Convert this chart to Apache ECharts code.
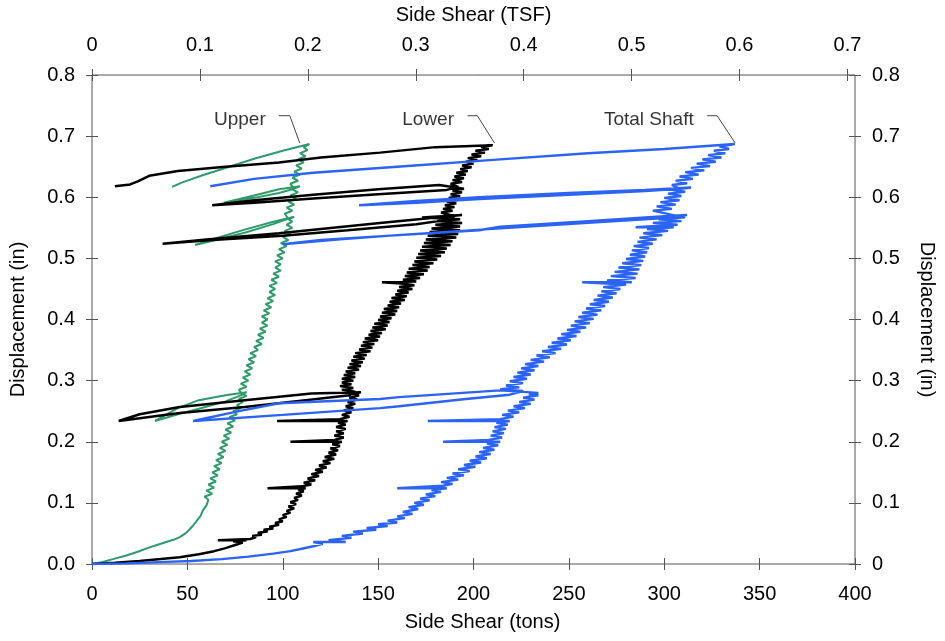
<!DOCTYPE html>
<html>
<head>
<meta charset="utf-8">
<script src="https://cdn.jsdelivr.net/npm/echarts@6/dist/echarts.min.js"></script>
<style>
  html, body { margin: 0; padding: 0; background: #fff; }
  #chart { width: 945px; height: 641px; }
</style>
</head>
<body>
<div id="chart"></div>
<script>
// Load-transfer curves: side shear (tons) vs. displacement (in), [tons, inches]
const upperShear = [
  [0,0],[5,0.003],[11,0.008],[18,0.014],[24,0.020],[29,0.026],[34,0.031],[39,0.036],[43,0.040],[46,0.044],
  [49,0.050],[51,0.056],[53,0.063],[55,0.071],[57,0.079],[58,0.087],[60,0.096],[61,0.105],[59,0.110],[63,0.115],
  [60,0.120],[64,0.125],[61,0.130],[65,0.135],[62,0.140],[66,0.145],[63,0.150],[67,0.155],[64,0.160],[68,0.165],
  [65,0.170],[69,0.175],[66,0.180],[70,0.185],[67,0.190],[71,0.195],[68,0.200],[72,0.205],[69,0.210],[73,0.215],
  [70,0.220],[74,0.225],[71,0.230],[75,0.235],[72,0.240],[76,0.245],[74,0.250],[78,0.255],[76,0.260],[79,0.265],
  [77,0.270],[81,0.275],[79,0.278],[81,0.281],
  // first unload / reload
  [70,0.276],[56,0.268],[45,0.255],[33,0.234],[45,0.245],[56,0.254],[70,0.266],[79,0.277],
  [77,0.285],[81,0.290],[78,0.295],[82,0.300],[79,0.305],[83,0.310],[80,0.315],[84,0.320],[81,0.325],[85,0.330],
  [82,0.335],[86,0.340],[83,0.345],[87,0.350],[85,0.355],[89,0.360],[86,0.365],[90,0.370],[87,0.375],[91,0.380],
  [88,0.385],[92,0.390],[89,0.395],[92,0.400],[89,0.405],[93,0.410],[90,0.415],[94,0.420],[91,0.425],[95,0.430],
  [92,0.435],[96,0.440],[93,0.445],[96,0.450],[93,0.455],[97,0.460],[94,0.465],[98,0.470],[95,0.475],[99,0.480],
  [96,0.485],[99,0.490],[96,0.495],[100,0.500],[97,0.505],[101,0.510],[98,0.515],[102,0.520],[99,0.525],[103,0.530],
  [100,0.535],[104,0.540],[101,0.545],[105,0.550],[102,0.555],[105,0.560],[103,0.564],[106,0.568],
  // second unload / reload
  [95,0.560],[80,0.547],[65,0.533],[54,0.522],[65,0.530],[80,0.542],[95,0.556],[103,0.565],
  [101,0.573],[105,0.578],[102,0.583],[106,0.588],[103,0.593],[107,0.598],[104,0.603],[108,0.608],[105,0.613],[109,0.618],
  // third unload / reload
  [98,0.613],[85,0.603],[69,0.591],[85,0.599],[98,0.607],[106,0.614],
  [104,0.622],[108,0.627],[105,0.632],[109,0.637],[106,0.642],[110,0.647],[107,0.652],[111,0.657],[108,0.662],
  [112,0.667],[109,0.672],[113,0.677],[111,0.682],[114,0.687],
  // final unload
  [100,0.676],[85,0.663],[72,0.650],[58,0.636],[47,0.624],[42,0.617]
];

const lowerShear = [
  [0,0],[12,0.002],[25,0.005],[36,0.008],[46,0.011],[56,0.016],[64,0.021],[70,0.026],[75,0.031],[79,0.035],
  [74,0.037],[81,0.039],[66,0.039],[83,0.041],[86,0.044],[84,0.046],[89,0.048],[87,0.051],[92,0.053],[90,0.056],
  [95,0.058],[93,0.061],[98,0.064],[96,0.067],[100,0.070],[98,0.073],[102,0.077],[100,0.080],[104,0.084],[102,0.087],
  [106,0.091],[103,0.094],[107,0.098],[104,0.101],[108,0.105],[106,0.108],[110,0.112],[107,0.115],[111,0.119],
  [108,0.122],[112,0.124],[92,0.124],[110,0.127],[115,0.130],[111,0.133],[117,0.137],[113,0.140],[119,0.144],
  [115,0.147],[121,0.151],[117,0.154],[123,0.158],[119,0.161],[125,0.165],[121,0.168],[127,0.172],[122,0.175],
  [128,0.179],[124,0.182],[129,0.186],[125,0.189],[130,0.193],[126,0.196],[131,0.200],[104,0.200],[127,0.203],
  [132,0.207],[127,0.210],[132,0.214],[128,0.217],[133,0.221],[128,0.224],[133,0.228],[129,0.231],[134,0.234],
  [97,0.234],[130,0.237],[135,0.241],[131,0.244],[136,0.248],[132,0.251],[137,0.255],[133,0.258],[138,0.262],
  [134,0.265],[139,0.269],[135,0.272],[140,0.276],[136,0.278],[141,0.281],
  // first unload / reload
  [115,0.279],[80,0.268],[46,0.257],[25,0.245],[14,0.234],[46,0.247],[80,0.257],[112,0.268],[135,0.276],[138,0.282],
  [131,0.285],[137,0.288],[130,0.291],[136,0.294],[131,0.297],[137,0.300],[131,0.303],[138,0.306],[132,0.309],
  [138,0.312],[133,0.315],[140,0.318],[134,0.321],[141,0.324],[135,0.327],[142,0.330],[136,0.333],[143,0.336],
  [137,0.339],[144,0.342],[138,0.345],[146,0.348],[140,0.351],[147,0.354],[141,0.357],[148,0.360],[142,0.363],
  [150,0.366],[143,0.369],[151,0.372],[145,0.375],[152,0.378],[146,0.381],[154,0.384],[147,0.387],[155,0.390],
  [148,0.393],[156,0.396],[150,0.399],[157,0.402],[151,0.405],[159,0.408],[152,0.411],[160,0.414],[153,0.417],
  [161,0.420],[155,0.423],[162,0.426],[156,0.429],[164,0.432],[157,0.435],[165,0.438],[159,0.441],[166,0.444],
  [160,0.447],[168,0.450],[161,0.453],[169,0.456],[162,0.459],[152,0.461],[170,0.462],[163,0.465],[172,0.468],
  [164,0.471],[174,0.474],[165,0.477],[176,0.480],[166,0.483],[177,0.486],[168,0.489],[179,0.492],[169,0.495],
  [181,0.498],[170,0.501],[183,0.504],[171,0.507],[185,0.510],[172,0.513],[186,0.516],[173,0.519],[188,0.522],
  [174,0.525],[189,0.528],[175,0.531],[191,0.534],[176,0.537],[192,0.540],[177,0.543],[193,0.546],[178,0.549],
  [193,0.552],[180,0.555],[194,0.558],[181,0.561],[193,0.564],[173,0.567],[194,0.571],
  // second unload / reload
  [151,0.558],[98,0.541],[60,0.531],[37,0.524],[63,0.530],[100,0.537],[134,0.546],[170,0.556],[186,0.563],[190,0.569],
  [183,0.575],[189,0.578],[184,0.581],[190,0.584],[185,0.587],[191,0.590],[186,0.593],[192,0.596],[187,0.599],
  [193,0.602],[188,0.605],[194,0.608],[189,0.611],[195,0.614],[196,0.617],
  // third unload / reload
  [182,0.620],[150,0.613],[116,0.604],[85,0.595],[63,0.587],[85,0.591],[116,0.598],[150,0.605],[186,0.612],[192,0.617],
  [188,0.622],[194,0.625],[189,0.628],[195,0.631],[190,0.634],[196,0.637],[191,0.640],[197,0.643],[193,0.646],
  [199,0.649],[194,0.652],[200,0.655],[196,0.658],[202,0.661],[197,0.664],[204,0.667],[199,0.670],[206,0.673],
  [201,0.676],[208,0.679],[204,0.682],[210,0.685],[211,0.687],
  // final unload
  [180,0.682],[151,0.673],[120,0.665],[98,0.657],[70,0.650],[45,0.643],[30,0.635],[24,0.626],[20,0.621],[12,0.618]
];

const totalShear = [
  [0,0],[18,0.001],[35,0.003],[52,0.005],[68,0.008],[82,0.012],[95,0.017],[104,0.021],[110,0.025],[116,0.029],
  [121,0.033],[116,0.036],[133,0.036],[124,0.039],[136,0.043],[131,0.046],[142,0.050],[137,0.053],[149,0.056],
  [144,0.059],[155,0.062],[150,0.065],[160,0.068],[155,0.071],[164,0.075],[160,0.078],[168,0.082],[163,0.085],
  [171,0.090],[166,0.093],[174,0.097],[169,0.100],[177,0.104],[172,0.107],[180,0.111],[175,0.114],[183,0.118],
  [178,0.121],[186,0.124],[160,0.124],[184,0.128],[189,0.131],[183,0.134],[192,0.138],[186,0.141],[195,0.145],
  [189,0.148],[198,0.152],[192,0.155],[201,0.159],[195,0.162],[204,0.166],[198,0.169],[207,0.173],[201,0.176],
  [209,0.180],[203,0.183],[211,0.187],[205,0.190],[213,0.194],[207,0.197],[214,0.200],[184,0.200],[208,0.203],
  [215,0.207],[209,0.210],[216,0.214],[210,0.217],[217,0.221],[211,0.224],[218,0.228],[212,0.231],[219,0.234],
  [176,0.234],[214,0.237],[221,0.241],[215,0.244],[224,0.248],[218,0.251],[227,0.255],[221,0.258],[230,0.262],
  [224,0.265],[232,0.269],[226,0.272],[234,0.276],[229,0.278],[234,0.280],
  // first unload / reload
  [214,0.284],[161,0.273],[151,0.270],[98,0.263],[77,0.250],[53,0.234],[100,0.244],[151,0.255],[161,0.258],
  [196,0.270],[219,0.277],[226,0.283],
  [214,0.286],[224,0.289],[217,0.292],[226,0.296],[219,0.299],[228,0.303],[221,0.306],[230,0.310],[223,0.313],
  [232,0.317],[225,0.320],[234,0.324],[227,0.327],[237,0.331],[230,0.334],[240,0.338],[233,0.341],[243,0.345],
  [236,0.348],[246,0.352],[239,0.355],[249,0.359],[241,0.362],[251,0.366],[244,0.369],[254,0.373],[246,0.376],
  [256,0.380],[249,0.383],[259,0.387],[251,0.390],[261,0.394],[253,0.397],[263,0.401],[255,0.404],[265,0.408],
  [257,0.411],[267,0.415],[259,0.418],[269,0.422],[261,0.425],[271,0.429],[263,0.432],[273,0.436],[265,0.439],
  [275,0.443],[267,0.446],[277,0.450],[268,0.453],[280,0.457],[257,0.461],[283,0.461],[270,0.464],[285,0.468],
  [272,0.471],[286,0.475],[274,0.478],[287,0.482],[276,0.485],[288,0.489],[278,0.492],[289,0.496],[280,0.499],
  [290,0.503],[282,0.506],[291,0.510],[283,0.513],[292,0.517],[284,0.520],[294,0.524],[286,0.527],[296,0.531],
  [287,0.534],[299,0.538],[289,0.541],[302,0.545],[291,0.548],[305,0.551],[285,0.551],[307,0.555],[294,0.558],
  [309,0.561],[297,0.564],[311,0.567],[300,0.569],[312,0.571],
  // second unload / reload
  [300,0.569],[260,0.561],[214,0.552],[203,0.546],[150,0.536],[120,0.530],[100,0.523],[130,0.531],[160,0.538],
  [214,0.549],[260,0.558],[296,0.565],[306,0.570],
  [300,0.574],[294,0.578],[304,0.581],[296,0.585],[306,0.588],[298,0.592],[308,0.595],[300,0.599],[309,0.602],
  [302,0.606],[311,0.609],[304,0.612],[314,0.616],
  // third unload / reload
  [290,0.612],[250,0.607],[203,0.600],[170,0.594],[140,0.587],[170,0.591],[203,0.597],[250,0.604],[290,0.610],
  [308,0.614],
  [304,0.620],[312,0.623],[306,0.627],[315,0.630],[308,0.634],[318,0.637],[311,0.641],[321,0.644],[314,0.648],
  [324,0.651],[317,0.655],[327,0.658],[320,0.662],[330,0.665],[323,0.669],[332,0.672],[326,0.676],[334,0.679],
  [329,0.683],[337,0.687],
  // final unload
  [300,0.679],[260,0.672],[214,0.662],[160,0.650],[116,0.640],[85,0.630],[62,0.618]
];

// Curve callouts: text anchor and leader line, in data units
const calloutNames = ['Upper', 'Lower', 'Total Shaft'];
const calloutAnchors = [[77.5, 0.726], [176.2, 0.726], [291.9, 0.726]];
const calloutLeaders = [
  [[97.9, 0.7334], [103.7, 0.7334], [108.9, 0.6888]],
  [[196.9, 0.7334], [202.0, 0.7334], [211.0, 0.6888]],
  [[322.5, 0.7334], [327.7, 0.7334], [337.2, 0.6888]]
];

// Axis ranges and tick spacing
const tonsRange = [0, 400], tonsStep = 50;
const tsfRange = [0, 0.707], tsfStep = 0.1;
const dispRange = [0, 0.8], dispStep = 0.1;

const FONT = "'Liberation Sans', Arial, sans-serif";
const axisColor = '#555';
const textColor = '#000';
const FS = 20;
// Tick marks straddle the frame: each axis is pulled 6px inside the grid
// and draws 12px outward ticks; the frame itself is the grid border.
const TICK_HALF = 6;

function xAxisDef(pos, range, step, fmt, name) {
  return {
    type: 'value', position: pos, min: range[0], max: range[1], interval: step,
    offset: -TICK_HALF,
    name: name, nameLocation: 'middle', nameGap: (pos === 'top' ? 50 : 48) + TICK_HALF,
    nameTextStyle: {
      fontFamily: FONT, fontSize: FS, color: textColor,
      padding: pos === 'top' ? [0, 0, 0, 0] : [0, 0, 0, 18]
    },
    axisLine: { show: false, onZero: false },
    axisTick: { show: true, inside: false, length: TICK_HALF * 2, lineStyle: { color: axisColor } },
    axisLabel: {
      margin: 20 + TICK_HALF, fontFamily: FONT, fontSize: FS, color: textColor,
      formatter: fmt, showMaxLabel: pos !== 'top'
    },
    splitLine: { show: false }
  };
}
function yAxisDef(pos, fmt) {
  return {
    type: 'value', position: pos, min: dispRange[0], max: dispRange[1], interval: dispStep,
    offset: -TICK_HALF,
    name: 'Displacement (in)', nameLocation: 'middle',
    nameGap: (pos === 'left' ? 64 : 62) + TICK_HALF, nameRotate: pos === 'left' ? 90 : -90,
    nameTextStyle: { fontFamily: FONT, fontSize: FS, color: textColor },
    axisLine: { show: false, onZero: false },
    axisTick: { show: true, inside: false, length: TICK_HALF * 2, lineStyle: { color: axisColor } },
    axisLabel: { margin: 17 + TICK_HALF, fontFamily: FONT, fontSize: FS, color: textColor, formatter: fmt },
    splitLine: { show: false }
  };
}

const fmtTons = v => String(v);
const fmtTsf = v => (v === 0 ? '0' : v.toFixed(1));
const fmtLeft = v => v.toFixed(1);
const fmtRight = v => (v === 0 ? '0' : v.toFixed(1));

const curveSeries = [
  { name: 'Upper', data: upperShear, color: '#2f9a6a', width: 2 },
  { name: 'Lower', data: lowerShear, color: '#000000', width: 2.5 },
  { name: 'Total Shaft', data: totalShear, color: '#2b63f2', width: 2.4 }
].map(s => ({
  name: s.name, type: 'line', xAxisIndex: 0, yAxisIndex: 0, data: s.data,
  showSymbol: false, symbol: 'none', silent: true,
  lineStyle: { color: s.color, width: s.width }, z: 3
}));

const leaderSeries = calloutLeaders.map(pts => ({
  type: 'line', xAxisIndex: 0, yAxisIndex: 0, data: pts, symbol: 'none', silent: true,
  lineStyle: { color: '#444', width: 1 }, z: 4
}));

const labelSeries = {
  type: 'scatter', xAxisIndex: 0, yAxisIndex: 0, symbolSize: 0, silent: true,
  data: calloutNames.map((n, i) => ({ name: n, value: calloutAnchors[i] })),
  label: { show: true, position: 'inside', formatter: '{b}', fontFamily: FONT, fontSize: 19, color: textColor },
  z: 5
};

const chart = echarts.init(document.getElementById('chart'), null, { renderer: 'canvas' });
chart.setOption({
  animation: false,
  backgroundColor: '#ffffff',
  grid: {
    left: 92, right: 89, top: 75, bottom: 77, containLabel: false,
    show: true, borderColor: axisColor, borderWidth: 1, backgroundColor: 'transparent'
  },
  xAxis: [
    xAxisDef('bottom', tonsRange, tonsStep, fmtTons, 'Side Shear (tons)'),
    xAxisDef('top', tsfRange, tsfStep, fmtTsf, 'Side Shear (TSF)')
  ],
  yAxis: [
    yAxisDef('left', fmtLeft),
    yAxisDef('right', fmtRight)
  ],
  series: [...curveSeries, ...leaderSeries, labelSeries]
});
</script>
</body>
</html>
